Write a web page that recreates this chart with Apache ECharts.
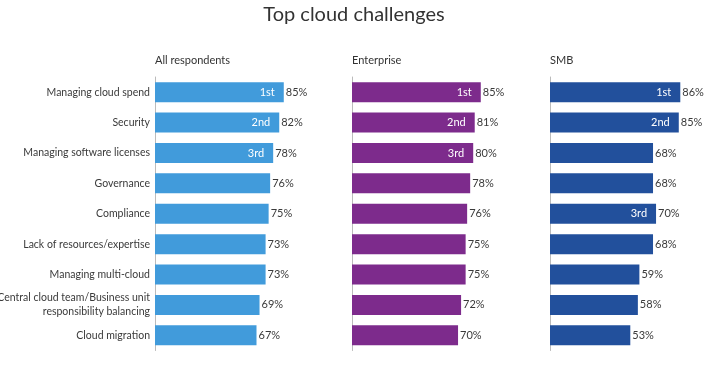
<!DOCTYPE html>
<html><head><meta charset="utf-8">
<script src="https://cdn.jsdelivr.net/npm/echarts@6/dist/echarts.min.js"></script>
<style>html,body{margin:0;padding:0;background:#fff}#c{width:708px;height:373px}</style>
</head><body><div id="c"></div>
<script>
const categories = ['Managing cloud spend','Security','Managing software licenses','Governance','Compliance','Lack of resources/expertise','Managing multi-cloud','Central cloud team/Business unit\nresponsibility balancing','Cloud migration'];
const panelTitles = ['All respondents','Enterprise','SMB'];
const allValues = [85,82,78,76,75,73,73,69,67];
const entValues = [85,81,80,78,76,75,75,72,70];
const smbValues = [86,85,68,68,70,68,59,58,53];
const allRanks = ['1st','2nd','3rd','','','','','',''];
const entRanks = ['1st','2nd','3rd','','','','','',''];
const smbRanks = ['1st','2nd','','','3rd','','','',''];

const FONT = 'Lato';
const colors = ['#419bdb','#7d2b8c','#22509c'];
const lefts = [155, 352, 550];
const valuesList = [allValues, entValues, smbValues];
const ranksList = [allRanks, entRanks, smbRanks];

const chart = echarts.init(document.getElementById('c'), null, {renderer:'canvas'});
const grids = [], xAxes = [], yAxes = [], series = [], titles = [];
titles.push({text:'Top cloud challenges', left:'center', top:5, padding:0,
  textStyle:{fontFamily:FONT, fontSize:20, fontWeight:'normal', color:'#333'}});
for (let i=0;i<3;i++){
  grids.push({left:lefts[i], top:77, width:151.5, height:273.5, outerBoundsMode:'none', containLabel:false});
  titles.push({text:panelTitles[i], left:lefts[i], top:55, padding:0,
    textStyle:{fontFamily:FONT, fontSize:11, fontWeight:'normal', color:'#333'}});
  xAxes.push({type:'value', gridIndex:i, min:0, max:100, show:false});
  yAxes.push({type:'category', gridIndex:i, data:categories, inverse:true,
    axisLine:{show:true, lineStyle:{color:'#bbb', width:1}}, axisTick:{show:false},
    axisLabel:{show:i===0, fontFamily:FONT, fontSize:10.5, color:'#3a3a3a', margin:5, lineHeight:14}});
  const vals = valuesList[i], ranks = ranksList[i];
  series.push({type:'bar', xAxisIndex:i, yAxisIndex:i, data:vals, barWidth:20,
    itemStyle:{color:colors[i]}, silent:true,
    label:{show:true, position:'right', distance:2, formatter:p=>p.value+'%',
      fontFamily:FONT, fontSize:11, color:'#3a3a3a'}});
  series.push({type:'bar', xAxisIndex:i, yAxisIndex:i, data:vals, barWidth:20, barGap:'-100%',
    itemStyle:{color:'rgba(0,0,0,0)'}, silent:true,
    label:{show:true, position:'insideRight', distance:9, formatter:p=>ranks[p.dataIndex],
      fontFamily:FONT, fontSize:11, color:'#fff'}});
}
chart.setOption({animation:false, title:titles, grid:grids, xAxis:xAxes, yAxis:yAxes, series:series});
</script></body></html>
